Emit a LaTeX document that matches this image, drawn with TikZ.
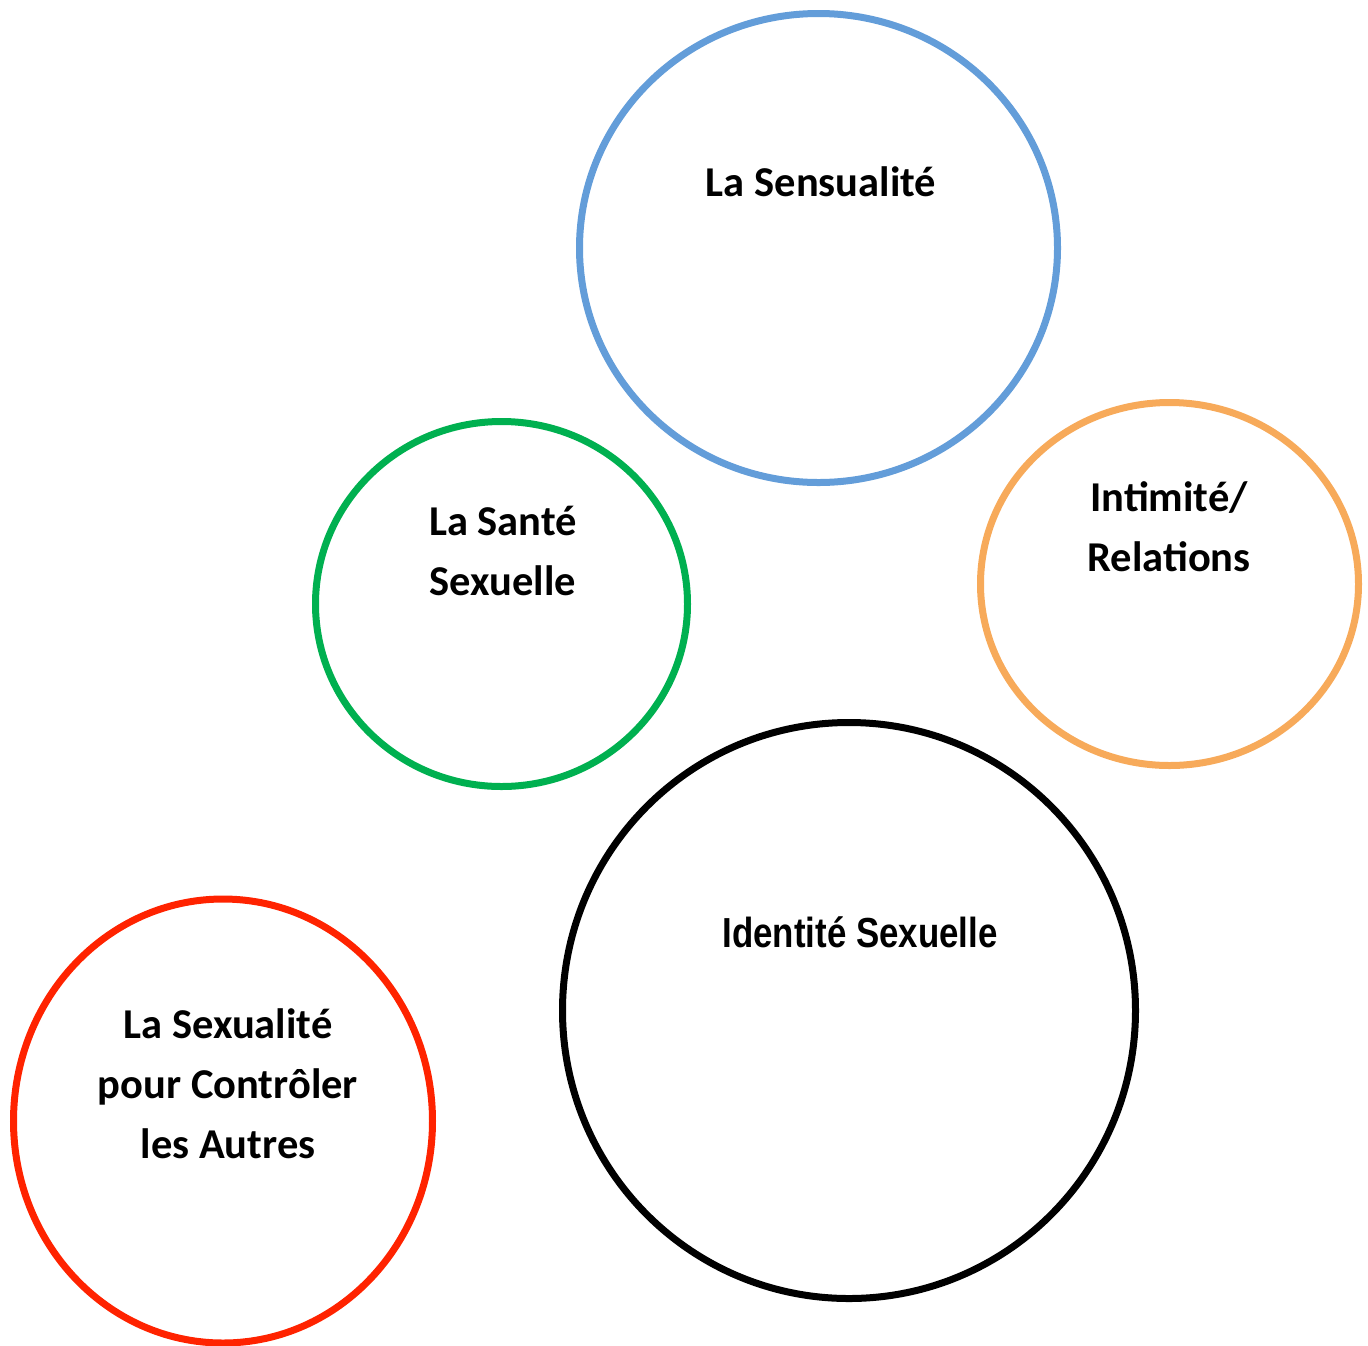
\documentclass[tikz,border=0pt]{standalone}
\usepackage{fontspec}
\setmainfont{Carlito}
\newfontfamily\narrowfont[FakeStretch=0.83]{Liberation Sans}
\usetikzlibrary{shapes.geometric}
\definecolor{cblue}{RGB}{99,157,217}
\definecolor{cgreen}{RGB}{0,176,80}
\definecolor{corange}{RGB}{247,170,90}
\definecolor{cred}{RGB}{255,35,0}
\begin{document}
\begin{tikzpicture}[x=1pt,y=-1pt,
  ring/.style={ellipse,draw,line width=7pt,inner sep=0pt,outer sep=0pt},
  lbl/.style={font=\fontsize{42.5}{60}\selectfont\bfseries,align=center,anchor=base,inner sep=0pt},
  nlbl/.style={font=\fontsize{42}{60}\narrowfont\bfseries,align=center,anchor=base,inner sep=0pt}]
\useasboundingbox (0,0) rectangle (1368,1345);
\node[ring,cblue,minimum width=478pt,minimum height=469pt] (sens) at (818.5,248) {};
\node[ring,cgreen,minimum width=372pt,minimum height=365pt] (sante) at (501.5,604) {};
\node[ring,corange,minimum width=378pt,minimum height=363pt] (intim) at (1169.5,584) {};
\node[ring,black,minimum width=573pt,minimum height=576pt] (ident) at (849,1010.5) {};
\node[ring,cred,minimum width=419pt,minimum height=444pt] (ctrl) at (223,1121) {};
\node[lbl] (tsens) at (821,196) {La Sensualité};
\node[lbl] (tsante) at (503,595) {La Santé\\Sexuelle};
\node[lbl] (tintim) at (1169,571) {Intimité/\\Relations};
\node[nlbl] (tident) at (860,947) {Identité Sexuelle};
\node[lbl] (tctrl) at (228,1158) {La Sexualité\\pour Contrôler\\les Autres};
\end{tikzpicture}
\end{document}
